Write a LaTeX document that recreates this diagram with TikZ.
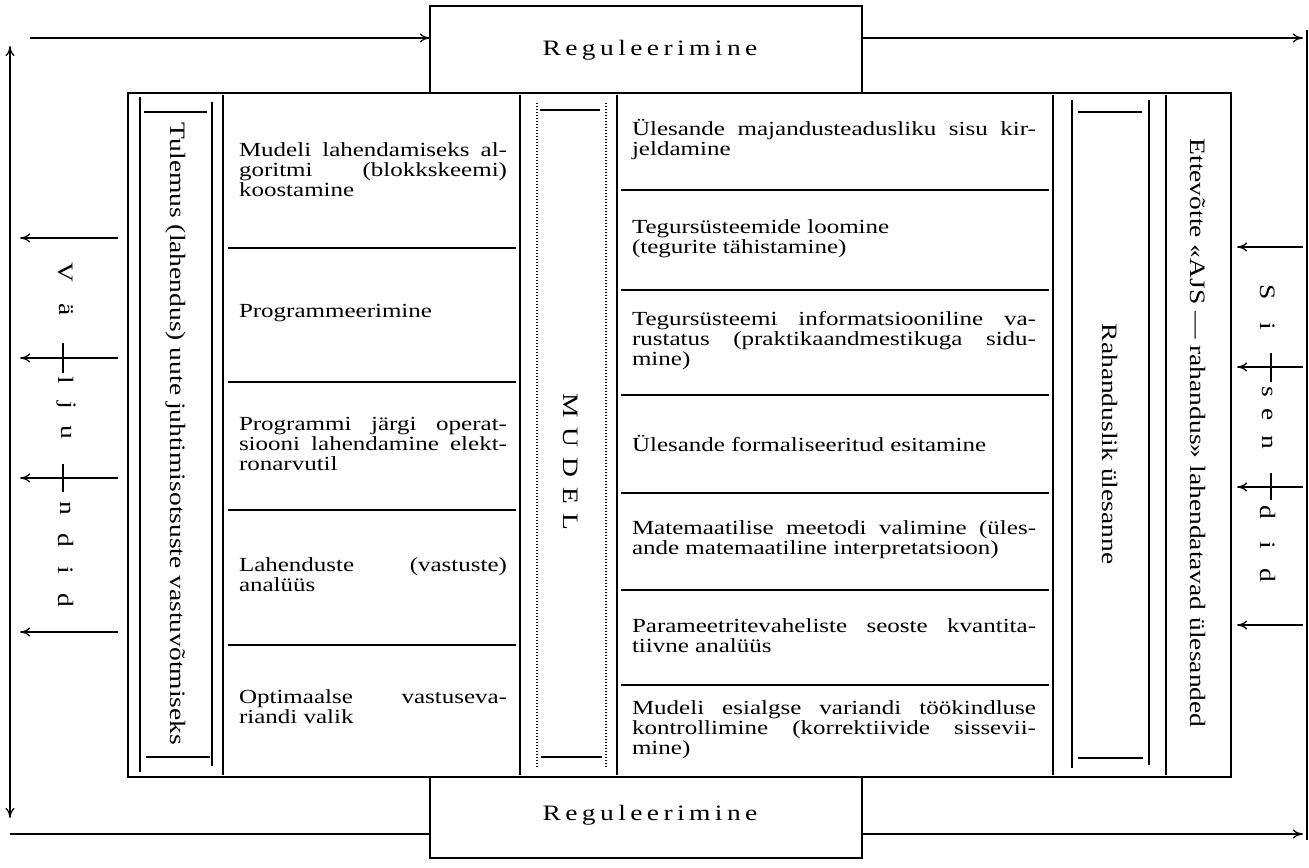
\documentclass[tikz,border=0pt]{standalone}
\usepackage{fontspec}
\setmainfont{Liberation Serif}[FakeStretch=1.25]
\usepackage{tikz}
\usetikzlibrary{arrows.meta}
\hyphenpenalty=10000
\tolerance=9999
\newcommand{\spread}[2]{{\addfontfeature{LetterSpace=#1}#2}}

\begin{document}
\begin{tikzpicture}[x=0.5pt, y=-0.5pt, every path/.style={line width=0.6pt},
    txt/.style={font=\fontsize{10}{10}\selectfont, inner sep=0pt},
    lcell/.style={txt, text width=134pt, align=justify},
    rcell/.style={txt, text width=202pt, align=justify},
    side/.style={txt, font=\fontsize{11}{11}\selectfont, rotate=-90},
    arr/.style={-{To[length=5pt, width=4.5pt]}}]

    \useasboundingbox (0,0) rectangle (1309,867);

    % regulation boxes
    \draw (430,6) rectangle (862,93);
    \node[txt, font=\fontsize{11}{11}\selectfont] (regtop) at (650,50) {\spread{20}{Reguleerimine}};
    \draw (430,777) rectangle (862,858);
    \node[txt, font=\fontsize{11}{11}\selectfont] (regbot) at (650,815) {\spread{20}{Reguleerimine}};

    % outer loop
    \coordinate (tl) at (10,38);
    \coordinate (bl) at (10,834);
    \coordinate (tr) at (1307,30);
    \coordinate (br) at (1307,840);
    \draw[{To[length=5pt, width=4.5pt]}-{To[length=5pt, width=4.5pt]}] ([yshift=-4]tl) -- ([yshift=8]bl);
    \draw[arr] ([xshift=10]tl) -- (430,38);
    \draw (bl) -- (430,834);
    \draw[arr] (862,38) -- (1303,38);
    \draw[arr] (862,834) -- (1303,834);
    \draw (tr) -- (br);

    % main frame and columns
    \draw (128,93) rectangle (1231,777);
    \foreach \x in {223,520,617,1053,1166}
        \draw (\x,95) -- (\x,775);

    % inner boxes
    \draw (140,97) -- (140,772);
    \draw (212,102) -- (212,766);
    \draw (144,112) -- (207,112);
    \draw (146,757) -- (210,757);

    \draw[dash pattern=on 0.6pt off 0.9pt] (537,103) -- (537,768);
    \draw[dash pattern=on 0.6pt off 0.9pt] (606,103) -- (606,768);
    \draw (540,110) -- (600,110);
    \draw (541,757) -- (602,757);

    \draw (1072,100) -- (1072,768);
    \draw (1149,100) -- (1149,765);
    \draw (1078,112) -- (1142,112);
    \draw (1078,758) -- (1143,758);

    % side texts
    \node[side] (res) at (176,434) {Tulemus (lahendus) uute juhtimisotsuste vastuvõtmiseks};
    \node[side] (mod) at (571,462) {\spread{45}{MUDEL}};
    \node[side] (task) at (1110,444) {Rahanduslik ülesanne};
    \node[side] (firm) at (1198,433) {Ettevõtte «AJS — rahandus» lahendatavad ülesanded};
    \foreach \c/\y in {V/272, ä/310, l/380, j/405, u/432, n/508, d/540, i/570, d/600}
        \node[side] at (66,\y) {\c};
    \foreach \c/\y in {S/292, i/326, s/392, e/415, n/442, d/512, i/545, d/575}
        \node[side] at (1268,\y) {\c};

    % left steps
    \foreach \y in {248,382,510,645}
        \draw (228,\y) -- (516,\y);
    \node[lcell] (l1) at (373,170) {Mudeli lahendamiseks al-\linebreak goritmi (blokkskeemi)\linebreak koostamine};
    \node[lcell] (l2) at (373,313) {Programmeerimine};
    \node[lcell] (l3) at (373,444) {Programmi järgi operat-\linebreak siooni lahendamine elekt-\linebreak ronarvutil};
    \node[lcell] (l4) at (373,575) {Lahenduste (vastuste)\linebreak analüüs};
    \node[lcell] (l5) at (373,707) {Optimaalse vastuseva-\linebreak riandi valik};

    % right steps
    \foreach \y in {190,290,395,493,590,685}
        \draw (621,\y) -- (1049,\y);
    \node[rcell] (r1) at (834,140) {Ülesande majandusteadusliku sisu kir-\linebreak jeldamine};
    \node[rcell] (r2) at (834,239) {Tegursüsteemide loomine\newline (tegurite tähistamine)};
    \node[rcell] (r3) at (834,341) {Tegursüsteemi informatsiooniline va-\linebreak rustatus (praktikaandmestikuga sidu-\linebreak mine)};
    \node[rcell] (r4) at (834,443) {Ülesande formaliseeritud esitamine};
    \node[rcell] (r5) at (834,540) {Matemaatilise meetodi valimine (üles-\linebreak ande matemaatiline interpretatsioon)};
    \node[rcell] (r6) at (834,636) {Parameetritevaheliste seoste kvantita-\linebreak tiivne analüüs};
    \node[rcell] (r7) at (834,730) {Mudeli esialgse variandi töökindluse\linebreak kontrollimine (korrektiivide sissevii-\linebreak mine)};

    % outputs and inputs
    \foreach \y [count=\i] in {238,358,478,632} {
        \coordinate (os\i) at (118,\y);
        \coordinate (oe\i) at (20,\y);
        \draw[arr] (os\i) -- (oe\i);
    }
    \foreach \y [count=\i] in {247,367,487,625} {
        \coordinate (is\i) at (1303,\y);
        \coordinate (ie\i) at (1237,\y);
        \draw[arr] (is\i) -- (ie\i);
    }
    \draw (63,343) -- (63,373);
    \draw (63,464) -- (63,492);
    \draw (1271,353) -- (1271,382);
    \draw (1271,473) -- (1271,500);

\end{tikzpicture}
\end{document}
